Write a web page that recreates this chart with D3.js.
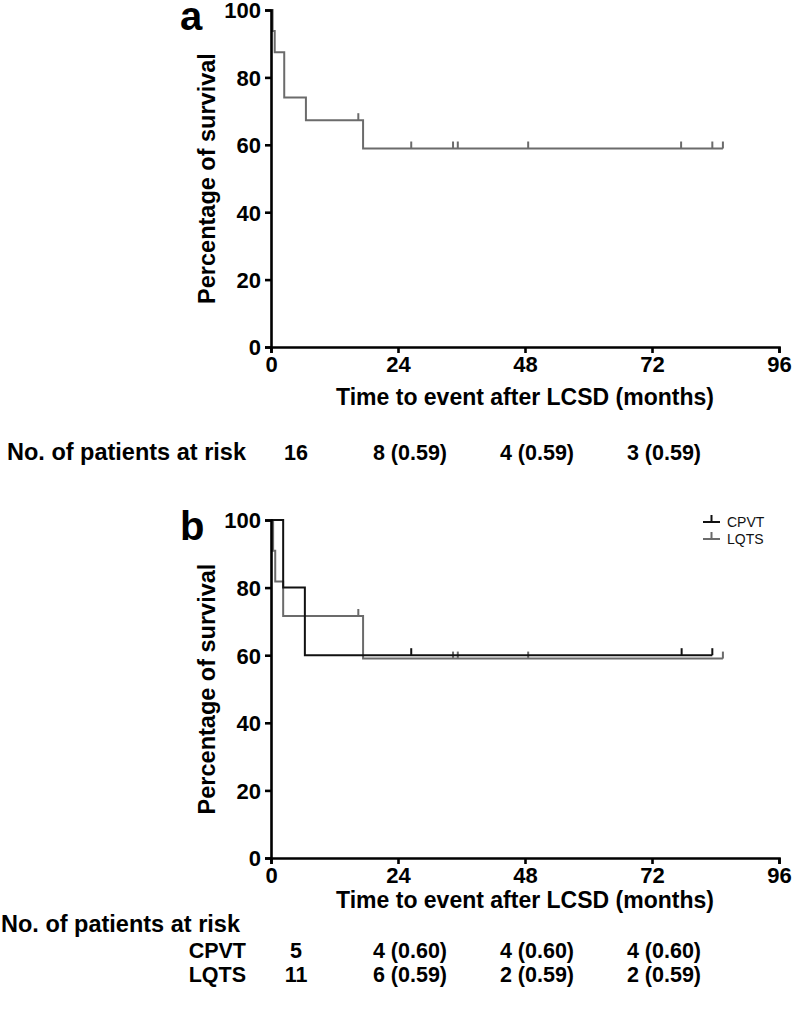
<!DOCTYPE html>
<html><head><meta charset="utf-8">
<script src="https://cdn.jsdelivr.net/npm/d3@7"></script>
<style>
body{margin:0;background:#fff;}
svg text{font-family:"Liberation Sans",Arial,sans-serif;}
</style></head>
<body>
<svg id="c" width="792" height="1012"></svg>
<script>
// ---------- data ----------
const xTicks = [0, 24, 48, 72, 96];
const yTicks = [0, 20, 40, 60, 80, 100];

// panel a: all patients
const allEventTimes = [0.3, 0.7, 2.5, 6.6, 17.4];
const allSurv       = [93.8, 87.5, 74.0, 67.3, 58.9];
const allEnd = 85.4;
const allCensor = [16.5, 26.5, 34.4, 35.3, 48.6, 77.5, 83.4, 85.4];

// panel b: CPVT
const cpvtEventTimes = [2.3, 6.4];
const cpvtSurv       = [80, 60];
const cpvtEnd = 83.4;
const cpvtCensor = [26.5, 77.6, 83.4];

// panel b: LQTS
const lqtsEventTimes = [0.4, 0.8, 2.3, 17.4];
const lqtsSurv       = [90.9, 81.8, 71.6, 59.0];
const lqtsEnd = 85.4;
const lqtsCensor = [16.5, 34.4, 35.3, 48.6, 85.4];

// risk tables
const riskTimes = [0, 24, 48, 72];
const riskAll  = ["16", "8 (0.59)", "4 (0.59)", "3 (0.59)"];
const riskCPVT = ["5", "4 (0.60)", "4 (0.60)", "4 (0.60)"];
const riskLQTS = ["11", "6 (0.59)", "2 (0.59)", "2 (0.59)"];

// ---------- drawing ----------
const svg = d3.select("#c");
const x = d3.scaleLinear().domain([0, 96]).range([271, 779]);
const FS_TICK = 22, FS_TITLE = 23, FS_TAB = 21.5, FS_ROWHEAD = 23.5;

function stepPoints(times, surv, end){
  const pts = [[0, 100]];
  let cur = 100;
  times.forEach((t, i) => { pts.push([t, cur]); cur = surv[i]; pts.push([t, cur]); });
  pts.push([end, cur]);
  return pts;
}
function survAt(times, surv, t){
  let s = 100;
  times.forEach((tt, i) => { if (tt <= t) s = surv[i]; });
  return s;
}

function panel(y, label, curves, titleY){
  const g = svg.append("g");
  curves.forEach(c => {
    const pts = stepPoints(c.times, c.surv, c.end);
    g.append("path")
      .attr("d", d3.line().x(d => x(d[0])).y(d => y(d[1]))(pts))
      .attr("fill", "none").attr("stroke", c.color).attr("stroke-width", 2);
    g.selectAll(null).data(c.censor).enter().append("line")
      .attr("x1", d => x(d)).attr("x2", d => x(d))
      .attr("y1", d => y(survAt(c.times, c.surv, d)))
      .attr("y2", d => y(survAt(c.times, c.surv, d)) - 7)
      .attr("stroke", c.color).attr("stroke-width", 2);
  });
  const ax = g.append("g").attr("transform", `translate(0,${y(0)})`)
    .call(d3.axisBottom(x).tickValues(xTicks).tickSize(6).tickPadding(3).tickFormat(d3.format("d")));
  const ay = g.append("g").attr("transform", `translate(${x(0)},0)`)
    .call(d3.axisLeft(y).tickValues(yTicks).tickSize(6).tickPadding(4).tickFormat(d3.format("d")));
  [ax, ay].forEach(a => {
    a.selectAll("path, line").attr("stroke", "#000").attr("stroke-width", 2.6);
    a.selectAll("text").attr("fill", "#000").attr("font-size", FS_TICK).attr("font-weight", "bold");
  });
  ay.selectAll("text").attr("dy", "0.36em");
  g.append("text").attr("x", x(48)).attr("y", titleY).attr("text-anchor", "middle")
    .attr("font-size", FS_TITLE).attr("font-weight", "bold").text("Time to event after LCSD (months)");
  const cy = (y(0) + y(100)) / 2;
  g.append("text").attr("transform", `translate(215,${cy}) rotate(-90)`).attr("text-anchor", "middle")
    .attr("font-size", FS_ROWHEAD).attr("font-weight", "bold").text("Percentage of survival");
  g.append("text").attr("x", 180).attr("y", y(100) + 20).attr("font-size", 40).attr("font-weight", "bold").text(label);
  return g;
}

const yA = d3.scaleLinear().domain([0, 100]).range([347, 10]);
const yB = d3.scaleLinear().domain([0, 100]).range([858, 520]);

panel(yA, "a", [{times: allEventTimes, surv: allSurv, end: allEnd, censor: allCensor, color: "#6b6b6b"}], 405);
panel(yB, "b", [
  {times: lqtsEventTimes, surv: lqtsSurv, end: lqtsEnd, censor: lqtsCensor, color: "#6b6b6b"},
  {times: cpvtEventTimes, surv: cpvtSurv, end: cpvtEnd, censor: cpvtCensor, color: "#111"}
], 908);

// risk tables
function colX(t, i){ return x(t) + (i === 0 ? 25 : 12); }
svg.append("text").attr("x", 7).attr("y", 460).attr("font-size", FS_ROWHEAD).attr("font-weight", "bold").text("No. of patients at risk");
svg.selectAll(null).data(riskAll).enter().append("text")
  .attr("x", (d, i) => colX(riskTimes[i], i)).attr("y", 460).attr("text-anchor", "middle")
  .attr("font-size", FS_TAB).attr("font-weight", "bold").text(d => d);

svg.append("text").attr("x", 1).attr("y", 932).attr("font-size", FS_ROWHEAD).attr("font-weight", "bold").text("No. of patients at risk");
[["CPVT", riskCPVT, 958], ["LQTS", riskLQTS, 982]].forEach(([name, row, yy]) => {
  svg.append("text").attr("x", 246).attr("y", yy).attr("text-anchor", "end")
    .attr("font-size", FS_TAB).attr("font-weight", "bold").text(name);
  svg.selectAll(null).data(row).enter().append("text")
    .attr("x", (d, i) => colX(riskTimes[i], i)).attr("y", yy).attr("text-anchor", "middle")
    .attr("font-size", FS_TAB).attr("font-weight", "bold").text(d => d);
});

// legend
const legend = [["CPVT", "#111"], ["LQTS", "#6b6b6b"]];
const lg = svg.selectAll(null).data(legend).enter().append("g")
  .attr("transform", (d, i) => `translate(703,${522 + i * 17})`);
lg.append("line").attr("x1", 0).attr("x2", 17).attr("y1", 0).attr("y2", 0).attr("stroke", d => d[1]).attr("stroke-width", 2);
lg.append("line").attr("x1", 8.5).attr("x2", 8.5).attr("y1", 0).attr("y2", -7).attr("stroke", d => d[1]).attr("stroke-width", 2);
lg.append("text").attr("x", 24).attr("y", 5).attr("font-size", 14).attr("fill", "#111").text(d => d[0]);
</script>
</body></html>
